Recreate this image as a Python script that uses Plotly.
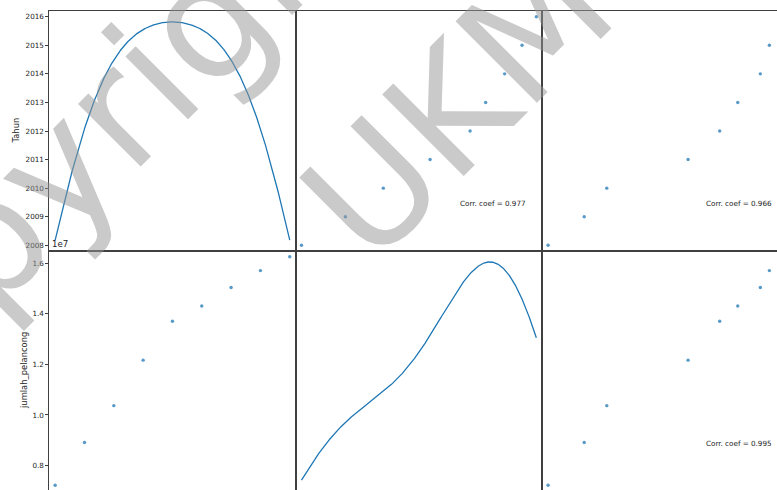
import numpy as np
import plotly.graph_objects as go

# ---------------- data ----------------
tahun = [2008, 2009, 2010, 2011, 2012, 2013, 2014, 2015, 2016]
jumlah_pelancong = [7220000, 8910000, 10370000, 12170000, 13710000,
                    14310000, 15040000, 15710000, 16260000]
pendapatan = [3.3, 4.1, 4.6, 6.4, 7.1, 7.5, 8.0, 8.2, 8.5]
var_names = ["Tahun", "jumlah_pelancong", "pendapatan"]
corr_labels = {(0, 1): "Corr. coef = 0.977",
               (0, 2): "Corr. coef = 0.966",
               (1, 2): "Corr. coef = 0.995"}
tahun_ticks = [2008, 2009, 2010, 2011, 2012, 2013, 2014, 2015, 2016]
jumlah_tickvals = [8000000, 10000000, 12000000, 14000000, 16000000]
jumlah_ticktext = ["0.8", "1.0", "1.2", "1.4", "1.6"]
offset_text = "1e7"
watermark_lines = ["Copyright", "UKM"]

data = [np.array(tahun, float), np.array(jumlah_pelancong, float),
        np.array(pendapatan, float)]

# ---------------- layout geometry ----------------
W, H = 777, 490
col_px = [(49.3, 295.6), (295.6, 542.2), (542.2, 788.8)]
row_px = [(11.0, 251.0), (251.0, 491.0)]
BLUE = "#1f77b4"
SPINE = "#404040"
FONT = "DejaVu Sans"


def lims(v):
    lo, hi = float(np.min(v)), float(np.max(v))
    pad = (hi - lo) * 0.05 / 2.0
    return lo - pad, hi + pad


def kde(v, n=1000):
    v = np.asarray(v, float)
    bw = v.std(ddof=1) * len(v) ** (-1.0 / 5)
    g = np.linspace(v.min(), v.max(), n)
    d = np.exp(-0.5 * ((g[:, None] - v[None, :]) / bw) ** 2).sum(1)
    d /= (len(v) * bw * np.sqrt(2 * np.pi))
    return g, d


def x_axis_range(c, lo, hi):
    p0, p1 = col_px[c]
    q1 = min(p1, W)
    vis_hi = lo + (q1 - p0) / (p1 - p0) * (hi - lo)
    return [lo, vis_hi], [p0 / W, q1 / W]


def y_axis_range(r, lo, hi):
    p0, p1 = row_px[r]
    q1 = min(p1, H)
    vis_lo = hi - (q1 - p0) / (p1 - p0) * (hi - lo)
    return [vis_lo, hi], [1 - q1 / H, 1 - p0 / H]


fig = go.Figure()
layout = {}
annotations = []

for r in range(2):
    for c in range(3):
        k = r * 3 + c + 1
        xa = "xaxis" if k == 1 else f"xaxis{k}"
        ya = "yaxis" if k == 1 else f"yaxis{k}"
        xr_ = "x" if k == 1 else f"x{k}"
        yr_ = "y" if k == 1 else f"y{k}"
        xlo, xhi = lims(data[c])
        if r == c:
            g, d = kde(data[c])
            fig.add_trace(go.Scatter(x=g, y=d, mode="lines", xaxis=xr_, yaxis=yr_,
                                     line=dict(color=BLUE, width=1.3),
                                     showlegend=False, hoverinfo="skip"))
            dr = d.max() - d.min()
            ylo, yhi = d.min() - 0.05 * dr, d.max() + 0.05 * dr
        else:
            fig.add_trace(go.Scatter(x=data[c], y=data[r], mode="markers",
                                     xaxis=xr_, yaxis=yr_,
                                     marker=dict(color=BLUE, size=3.4, opacity=0.75,
                                                 line=dict(width=0)),
                                     showlegend=False))
            ylo, yhi = lims(data[r])
        xrange, xdom = x_axis_range(c, xlo, xhi)
        yrange, ydom = y_axis_range(r, ylo, yhi)

        xax = dict(domain=xdom, range=xrange, anchor=yr_, showgrid=False,
                   zeroline=False, showticklabels=False, ticks="",
                   showline=True, linecolor=SPINE, linewidth=1)
        if r == 1:
            xax.update(side="top", mirror=False)
        else:
            xax.update(mirror=True)
        yax = dict(domain=ydom, range=yrange, anchor=xr_, showgrid=False,
                   zeroline=False, showticklabels=False, ticks="",
                   showline=True, linecolor=SPINE, linewidth=1)
        yax.update(mirror=(c != 2))
        if c == 0:
            yax.update(ticks="outside", ticklen=3, tickwidth=1, tickcolor=SPINE,
                       showticklabels=True,
                       tickfont=dict(family=FONT, size=7.2, color="#222"))
            if r == 0:
                tlo, thi = lims(data[0])
                tv = [ylo + (t - tlo) / (thi - tlo) * (yhi - ylo) for t in tahun_ticks]
                yax.update(tickmode="array", tickvals=tv,
                           ticktext=[str(t) for t in tahun_ticks])
            else:
                yax.update(tickmode="array", tickvals=jumlah_tickvals,
                           ticktext=jumlah_ticktext)
        layout[xa] = xax
        layout[ya] = yax

        if (r, c) in corr_labels:
            annotations.append(dict(
                x=xlo + 0.8 * (xhi - xlo), y=ylo + 0.2 * (yhi - ylo),
                xref=xr_, yref=yr_, text=corr_labels[(r, c)], showarrow=False,
                xanchor="center", yanchor="middle",
                font=dict(family=FONT, size=7.2, color="#222")))

# axis labels (left column)
annotations.append(dict(x=15.5 / W, y=1 - 131 / H, xref="paper", yref="paper",
                        text=var_names[0], textangle=-90, showarrow=False,
                        xanchor="center", yanchor="middle",
                        font=dict(family=FONT, size=8.4, color="#222")))
annotations.append(dict(x=24 / W, y=1 - 371 / H, xref="paper", yref="paper",
                        text=var_names[1], textangle=-90, showarrow=False,
                        xanchor="center", yanchor="middle",
                        font=dict(family=FONT, size=8.4, color="#222")))
annotations.append(dict(x=49.5 / W, y=1 - 243.5 / H, xref="paper", yref="paper",
                        text=offset_text, showarrow=False,
                        xanchor="left", yanchor="middle",
                        font=dict(family=FONT, size=8.6, color="#222")))

# watermark
WM_COLOR = "rgba(150,150,150,0.5)"
annotations.append(dict(x=80 / W, y=1 - 148 / H, xref="paper", yref="paper",
                        text=watermark_lines[0], textangle=-45, showarrow=False,
                        xanchor="center", yanchor="middle",
                        font=dict(family=FONT, size=162, color=WM_COLOR)))
annotations.append(dict(x=458 / W, y=1 - 104 / H, xref="paper", yref="paper",
                        text=watermark_lines[1], textangle=-45, showarrow=False,
                        xanchor="center", yanchor="middle",
                        font=dict(family=FONT, size=158, color=WM_COLOR)))

fig.update_layout(width=W, height=H, margin=dict(l=0, r=0, t=0, b=0),
                  paper_bgcolor="white", plot_bgcolor="white",
                  annotations=annotations, showlegend=False, **layout)

fig.write_html("out.html", config={"displayModeBar": False},
               post_script="document.body.style.margin='0';"
                           "document.body.style.overflow='hidden';")
